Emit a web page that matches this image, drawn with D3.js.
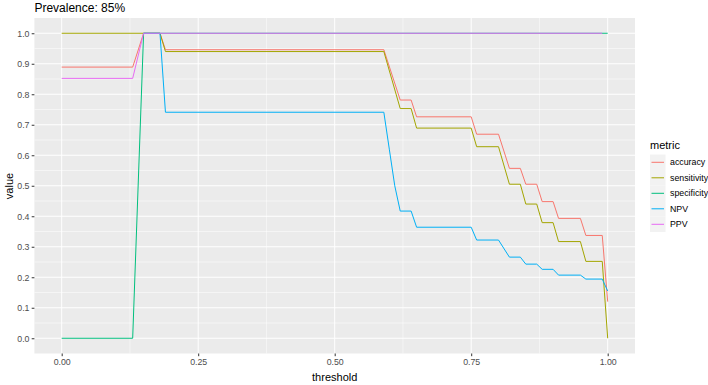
<!DOCTYPE html>
<html>
<head>
<meta charset="utf-8">
<script src="https://d3js.org/d3.v7.min.js"></script>
<style>
body { margin: 0; background: white; }
text { font-family: "Liberation Sans", Arial, sans-serif; }
</style>
</head>
<body>
<script>
// valores: [threshold, value]
var metricas = ['accuracy', 'sensitivity', 'specificity', 'NPV', 'PPV'];
var cores = ['#F8766D', '#A3A500', '#00BF7D', '#00B0F6', '#E76BF3'];

var accuracy = [[0, 0.889], [0.13, 0.889], [0.15, 1], [0.18, 1], [0.19, 0.946], [0.59, 0.946],
    [0.62, 0.781], [0.64, 0.781], [0.65, 0.726], [0.75, 0.726], [0.76, 0.669], [0.80, 0.669],
    [0.82, 0.557], [0.84, 0.557], [0.85, 0.505], [0.87, 0.505], [0.88, 0.448], [0.90, 0.448],
    [0.91, 0.393], [0.95, 0.393], [0.96, 0.337], [0.99, 0.337], [1, 0.12]];
var sensitivity = [[0, 1], [0.18, 1], [0.19, 0.94], [0.59, 0.94], [0.62, 0.753], [0.64, 0.753],
    [0.65, 0.689], [0.75, 0.689], [0.76, 0.628], [0.80, 0.628], [0.82, 0.505], [0.84, 0.505],
    [0.85, 0.44], [0.87, 0.44], [0.88, 0.379], [0.90, 0.379], [0.91, 0.317], [0.95, 0.317],
    [0.96, 0.252], [0.99, 0.252], [1, 0.0]];
var specificity = [[0, 0], [0.13, 0], [0.15, 1], [1, 1]];
var NPV = [[0.15, 1], [0.18, 1], [0.19, 0.741], [0.59, 0.741], [0.60, 0.62], [0.61, 0.50],
    [0.62, 0.417], [0.64, 0.417], [0.65, 0.364], [0.75, 0.364], [0.76, 0.322], [0.80, 0.322],
    [0.82, 0.266], [0.84, 0.266], [0.85, 0.243], [0.87, 0.243], [0.88, 0.226], [0.90, 0.226],
    [0.91, 0.207], [0.95, 0.207], [0.96, 0.194], [0.99, 0.194], [1, 0.155]];
var PPV = [[0, 0.852], [0.13, 0.852], [0.15, 1], [0.99, 1]];

var xTicks = [0, 0.25, 0.5, 0.75, 1];
var xMinor = [0.125, 0.375, 0.625, 0.875];
var yTicks = [0, 0.1, 0.2, 0.3, 0.4, 0.5, 0.6, 0.7, 0.8, 0.9, 1];
var yMinor = [0.05, 0.15, 0.25, 0.35, 0.45, 0.55, 0.65, 0.75, 0.85, 0.95];

var series = [accuracy, sensitivity, specificity, NPV, PPV];

var svg = d3.select('body').append('svg').attr('width', 708).attr('height', 385);
svg.append('rect').attr('width', 708).attr('height', 385).attr('fill', 'white');

var topo = 18, base = 353.5, esq = 34.4, dir = 635;
var x = d3.scaleLinear().domain([-0.05, 1.05]).range([esq, dir]);
var y = d3.scaleLinear().domain([-0.05, 1.05]).range([base, topo]);

// painel
svg.append('rect').attr('x', esq).attr('y', topo).attr('width', dir - esq).attr('height', base - topo)
    .attr('fill', '#EBEBEB');

var grade = svg.append('g');
grade.selectAll('.ymin').data(yMinor).enter().append('line')
    .attr('x1', esq).attr('x2', dir).attr('y1', d => y(d)).attr('y2', d => y(d))
    .attr('stroke', 'white').attr('stroke-width', 0.5);
grade.selectAll('.xmin').data(xMinor).enter().append('line')
    .attr('y1', topo).attr('y2', base).attr('x1', d => x(d)).attr('x2', d => x(d))
    .attr('stroke', 'white').attr('stroke-width', 0.5);
grade.selectAll('.ymaj').data(yTicks).enter().append('line')
    .attr('x1', esq).attr('x2', dir).attr('y1', d => y(d)).attr('y2', d => y(d))
    .attr('stroke', 'white').attr('stroke-width', 1);
grade.selectAll('.xmaj').data(xTicks).enter().append('line')
    .attr('y1', topo).attr('y2', base).attr('x1', d => x(d)).attr('x2', d => x(d))
    .attr('stroke', 'white').attr('stroke-width', 1);

// linhas
var linha = d3.line().x(d => x(d[0])).y(d => y(d[1]));
series.forEach(function(s, i) {
    svg.append('path').datum(s).attr('d', linha)
        .attr('fill', 'none').attr('stroke', cores[i]).attr('stroke-width', 1);
});

// eixos
var eixoY = svg.append('g').attr('transform', 'translate(' + esq + ',0)')
    .call(d3.axisLeft(y).tickValues(yTicks).tickFormat(d3.format('.1f')).tickSize(2.7).tickPadding(2.2));
var eixoX = svg.append('g').attr('transform', 'translate(0,' + base + ')')
    .call(d3.axisBottom(x).tickValues(xTicks).tickFormat(d3.format('.2f')).tickSize(2.7).tickPadding(2.2));
[eixoY, eixoX].forEach(function(e) {
    e.select('.domain').remove();
    e.selectAll('line').attr('stroke', '#333333');
    e.selectAll('text').attr('fill', '#4D4D4D').style('font-size', '8.8px')
        .style('font-family', '"Liberation Sans", Arial, sans-serif');
});

// títulos
svg.append('text').attr('x', esq).attr('y', 12).attr('font-size', 12).attr('fill', 'black')
    .text('Prevalence: 85%');
svg.append('text').attr('x', 334.7).attr('y', 381).attr('font-size', 11).attr('text-anchor', 'middle')
    .attr('fill', 'black').text('threshold');
svg.append('text').attr('transform', 'translate(13,186) rotate(-90)').attr('font-size', 11)
    .attr('text-anchor', 'middle').attr('fill', 'black').text('value');

// legenda
var leg = svg.append('g');
leg.append('text').attr('x', 650).attr('y', 149).attr('font-size', 11).attr('fill', 'black').text('metric');
metricas.forEach(function(m, i) {
    var cy = 162.3 + i * 15.5;
    leg.append('rect').attr('x', 650).attr('y', cy - 7.75).attr('width', 15.5).attr('height', 15.5)
        .attr('fill', '#F2F2F2');
    leg.append('line').attr('x1', 651.5).attr('x2', 664).attr('y1', cy).attr('y2', cy)
        .attr('stroke', cores[i]).attr('stroke-width', 1);
    leg.append('text').attr('x', 670).attr('y', cy + 3).attr('font-size', 8.8).attr('fill', 'black').text(m);
});
</script>
</body>
</html>
